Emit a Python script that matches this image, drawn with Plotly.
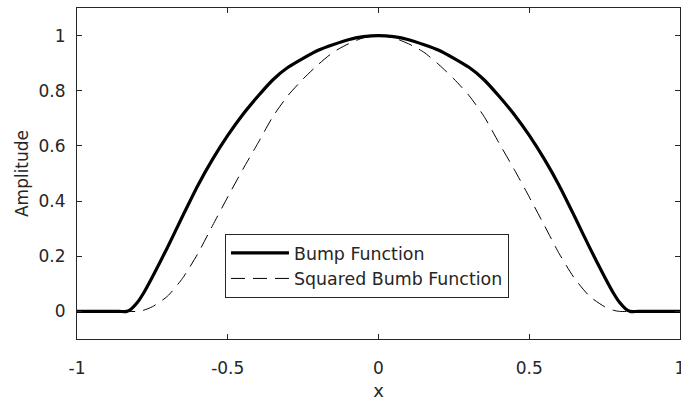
import plotly.graph_objects as go

# x positions where the curves were read
x_bump = [-1.0, -0.95, -0.9, -0.86, -0.835, -0.82, -0.8, -0.78, -0.75, -0.7, -0.65, -0.6,
          -0.55, -0.5, -0.45, -0.4, -0.35, -0.3, -0.2, -0.1, -0.05, 0.0, 0.05, 0.1, 0.2, 0.3,
          0.35, 0.4, 0.45, 0.5, 0.55, 0.6, 0.65, 0.7, 0.75, 0.78, 0.8, 0.82, 0.835, 0.86,
          0.9, 0.95, 1.0]
y_bump = [0.0, 0.0, 0.0, 0.0, 0.0, 0.009, 0.032, 0.065, 0.125, 0.232, 0.345, 0.455,
          0.552, 0.638, 0.714, 0.78, 0.84, 0.885, 0.947, 0.985, 0.996, 1.0, 0.996, 0.985,
          0.947, 0.885, 0.84, 0.78, 0.714, 0.638, 0.552, 0.455, 0.345, 0.232, 0.125, 0.065,
          0.032, 0.009, 0.0, 0.0, 0.0, 0.0, 0.0]

x_sq = [-1.0, -0.95, -0.9, -0.85, -0.8, -0.78, -0.75, -0.7, -0.65, -0.6, -0.55, -0.5, -0.45,
        -0.4, -0.35, -0.3, -0.25, -0.2, -0.15, -0.1, -0.05, 0.0, 0.05, 0.1, 0.15, 0.2, 0.25,
        0.3, 0.35, 0.4, 0.45, 0.5, 0.55, 0.6, 0.65, 0.7, 0.75, 0.78, 0.8, 0.85, 0.9, 0.95, 1.0]
y_sq = [0.0, 0.0, 0.0, 0.0, 0.0, 0.004, 0.017, 0.055, 0.12, 0.208, 0.312, 0.415, 0.515,
        0.61, 0.707, 0.783, 0.843, 0.895, 0.94, 0.97, 0.992, 1.0, 0.992, 0.97, 0.94, 0.895,
        0.843, 0.783, 0.707, 0.61, 0.515, 0.415, 0.312, 0.208, 0.12, 0.055, 0.017, 0.004,
        0.0, 0.0, 0.0, 0.0, 0.0]

x_ticks = [-1, -0.5, 0, 0.5, 1]
x_tick_labels = ["-1", "-0.5", "0", "0.5", "1"]
y_ticks = [0, 0.2, 0.4, 0.6, 0.8, 1]
y_tick_labels = ["0", "0.2", "0.4", "0.6", "0.8", "1"]

FONT = "DejaVu Sans"
AX = "#262626"

fig = go.Figure()
fig.add_trace(go.Scatter(x=x_bump, y=y_bump, mode="lines", name="Bump Function",
                         line=dict(color="black", width=3.2, shape="spline", smoothing=0.6)))
fig.add_trace(go.Scatter(x=x_sq, y=y_sq, mode="lines", name="Squared Bumb Function",
                         line=dict(color="black", width=1, dash="14px,8px",
                                   shape="spline", smoothing=0.6)))

axis_common = dict(showline=True, linecolor=AX, linewidth=1, mirror="ticks",
                   ticks="inside", ticklen=5, tickcolor=AX, tickwidth=1,
                   showgrid=False, zeroline=False,
                   tickfont=dict(family=FONT, size=17, color=AX))

fig.update_xaxes(range=[-1, 1], tickvals=x_ticks, ticktext=x_tick_labels,
                 ticklabelstandoff=14, ticklabeloverflow="allow",
                 title=dict(text="x", font=dict(family=FONT, size=18, color=AX), standoff=6),
                 **axis_common)
fig.update_yaxes(range=[-0.1, 1.1], tickvals=y_ticks, ticktext=y_tick_labels,
                 ticklabelstandoff=7,
                 title=dict(text="Amplitude", font=dict(family=FONT, size=17, color=AX), standoff=5),
                 **axis_common)

fig.update_layout(
    width=681, height=401,
    margin=dict(l=77, r=1, t=8, b=62, autoexpand=False),
    paper_bgcolor="white", plot_bgcolor="white",
    showlegend=True,
    legend=dict(x=0.2454, y=0.3172, xanchor="left", yanchor="top",
                bgcolor="white", bordercolor=AX, borderwidth=1,
                font=dict(family=FONT, size=17.4, color=AX), itemwidth=58,
                traceorder="normal"),
)

fig.write_html("out.html", config={"displayModeBar": False},
               post_script="document.body.style.margin='0';document.body.style.padding='0';")
